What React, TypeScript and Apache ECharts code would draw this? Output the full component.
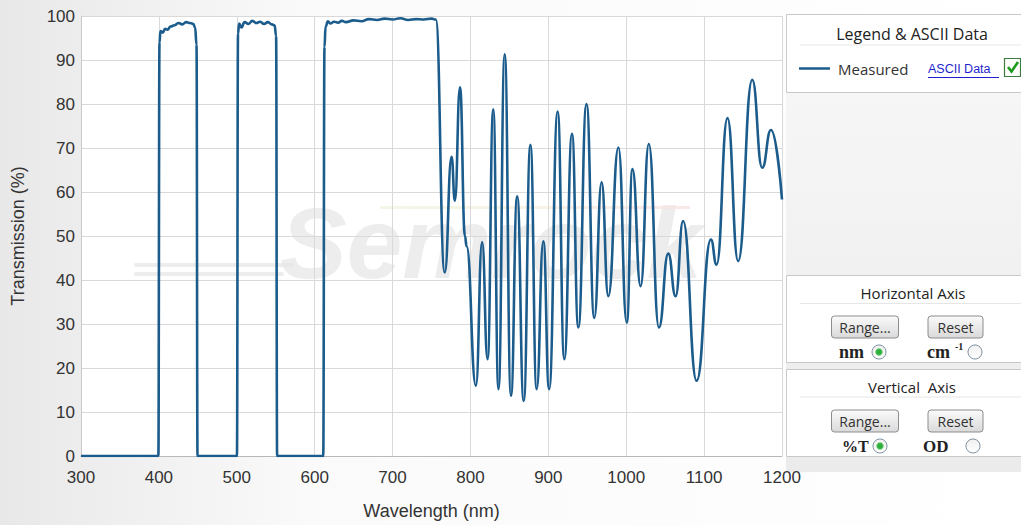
import React, { useEffect, useRef } from "react";
import * as echarts from "echarts";

// ---- Data (wavelength nm, transmission %) ----
const blockNm = [300, 399.3];
const blockT = [0, 0];

const band1Nm = [400.8, 402, 405, 408, 411, 415, 420, 425, 430, 435, 440, 444, 446.5, 448.3, 449.6];
const band1T = [94, 96.6, 96.2, 97.1, 96.9, 97.6, 97.9, 98.4, 98.1, 98.6, 98.4, 98.2, 97.4, 93.5, 0];

const band2Nm = [500.2, 501.6, 503, 506, 510, 515, 520, 525, 530, 535, 540, 545, 548.5, 550.5, 551.8];
const band2T = [0, 96, 98.3, 97.4, 98.6, 98.2, 98.9, 98.4, 98.7, 98.2, 98.6, 98.1, 97.9, 95.5, 0];

const band3Nm = [611, 612.6, 614, 617, 620, 625, 630, 635, 640, 650, 660, 670, 680, 690, 700, 710, 720, 730, 740, 750, 755.5];
const band3T = [0, 93, 97.6, 98.8, 98.3, 98.7, 98.5, 98.9, 98.6, 99, 98.8, 99.3, 99.1, 99.4, 99.2, 99.5, 99.1, 99.3, 99.2, 99.4, 99.2];

const rippleNm = [
  767, 775.8, 780, 786.6, 793, 795, 807, 815, 822, 829.3, 836, 844, 852, 860, 868.4, 877, 885, 893.6,
  901, 912, 920.5, 930.4, 938.5, 949, 959, 968.4, 977, 990, 1000.7, 1008, 1018.5, 1029, 1042, 1054,
  1063.4, 1073, 1090.4, 1108.7, 1116, 1130, 1143.7, 1161.8, 1174.6, 1185.8, 1200,
];
const rippleT = [
  41.7, 68, 58, 83.8, 50, 47.7, 16, 48.6, 22, 78.8, 15.2, 91.3, 13.7, 59, 12.5, 70.7, 15.2, 48.8,
  15.2, 78.3, 22, 73.2, 29.2, 80, 31.4, 62.2, 36.3, 70.1, 30.3, 65.2, 38.6, 70.9, 29.2, 46,
  36.3, 53.4, 17.1, 49.2, 43.5, 76.8, 44.3, 85.5, 65.5, 74.1, 58.3,
];

const xTicks = [300, 1200, 100];
const yTicks = [0, 100, 10];

const LINE = "#1b5c8c";
const FONT = "'Liberation Sans', Arial, sans-serif";
const UI = "'Open Sans', 'Noto Sans', sans-serif";
const SERIF = "'Liberation Serif', serif";

function pairs(nm: number[], t: number[]) {
  return nm.map((v, i) => [v, t[i]]);
}

function button(x: number, y: number, w: number, h: number, text: string) {
  return {
    type: "group",
    children: [
      {
        type: "rect",
        shape: { x, y, width: w, height: h, r: 3 },
        style: {
          fill: new echarts.graphic.LinearGradient(0, 0, 0, 1, [
            { offset: 0, color: "#fbfbfb" },
            { offset: 1, color: "#d9d9d9" },
          ]),
          stroke: "#8c8c8c",
          lineWidth: 1,
        },
      },
      {
        type: "text",
        style: {
          x: x + w / 2,
          y: y + h / 2,
          text,
          align: "center",
          verticalAlign: "middle",
          font: `14px ${UI}`,
          fill: "#333",
        },
      },
    ],
  };
}

function radio(cx: number, cy: number, on: boolean) {
  const kids: any[] = [
    {
      type: "circle",
      shape: { cx, cy, r: 7 },
      style: {
        fill: new echarts.graphic.LinearGradient(0, 0, 0, 1, [
          { offset: 0, color: "#f0f0f0" },
          { offset: 1, color: "#ffffff" },
        ]),
        stroke: "#7d8f9f",
        lineWidth: 1,
      },
    },
  ];
  if (on) {
    kids.push({
      type: "circle",
      shape: { cx, cy, r: 3.5 },
      style: { fill: "#2fae3a", stroke: "#9be0a0", lineWidth: 1 },
    });
  }
  return { type: "group", children: kids };
}

function label(x: number, y: number, text: string, font: string, align = "left", fill = "#222") {
  return {
    type: "text",
    style: { x, y, text, align, verticalAlign: "middle", font, fill },
  };
}

function panel(y: number, h: number) {
  return {
    type: "rect",
    shape: { x: 786.5, y, width: 240, height: h },
    style: { fill: "#ffffff", stroke: "#c9c9c9", lineWidth: 1 },
  };
}

export default function App() {
  const ref = useRef<HTMLDivElement>(null);

  useEffect(() => {
    if (!ref.current) return;
    const chart = echarts.init(ref.current, undefined, { renderer: "svg" });

    const data = [
      ...pairs(blockNm, blockT),
      ...pairs(band1Nm, band1T),
      ...pairs(band2Nm, band2T),
      ...pairs(band3Nm, band3T),
      ...pairs(rippleNm, rippleT),
    ];

    const graphics: any[] = [
      // page background shading
      {
        type: "rect",
        z: -20,
        shape: { x: 0, y: 0, width: 1021, height: 525 },
        style: {
          fill: new echarts.graphic.LinearGradient(0, 0, 1, 0, [
            { offset: 0, color: "#e8e8e8" },
            { offset: 0.3, color: "#fafafa" },
            { offset: 1, color: "#ffffff" },
          ]),
        },
      },
      {
        type: "rect",
        z: -19,
        shape: { x: 81, y: 16, width: 701, height: 441 },
        style: { fill: "#ffffff" },
      },
      {
        type: "rect",
        z: -19,
        shape: { x: 786, y: 92, width: 235, height: 380 },
        style: {
          fill: new echarts.graphic.LinearGradient(0, 0, 0, 1, [
            { offset: 0, color: "#f6f6f6" },
            { offset: 1, color: "#ebebeb" },
          ]),
        },
      },
      // watermark
      {
        type: "group",
        z: -5,
        silent: true,
        children: [
          {
            type: "text",
            style: {
              x: 280,
              y: 243,
              text: "Semrock",
              font: `italic bold 100px ${FONT}`,
              fill: "#e6e6e6",
              opacity: 0.7,
              verticalAlign: "middle",
            },
          },
          {
            type: "rect",
            shape: { x: 134, y: 263, width: 160, height: 4, r: 2 },
            style: { fill: "#e6e6e6", opacity: 0.7 },
          },
          {
            type: "rect",
            shape: { x: 134, y: 272, width: 150, height: 4, r: 2 },
            style: { fill: "#e6e6e6", opacity: 0.7 },
          },
          {
            type: "rect",
            shape: { x: 380, y: 206, width: 310, height: 3 },
            style: {
              fill: new echarts.graphic.LinearGradient(0, 0, 1, 0, [
                { offset: 0, color: "#eef6e0" },
                { offset: 0.5, color: "#f6efe0" },
                { offset: 1, color: "#f8e2e2" },
              ]),
              opacity: 0.8,
            },
          },
        ],
      },
      // Legend & ASCII Data panel
      panel(14.5, 78),
      label(912, 33.5, "Legend & ASCII Data", `16px ${UI}`, "center"),
      {
        type: "line",
        shape: { x1: 800, y1: 45, x2: 1021, y2: 45 },
        style: { stroke: "#e6e6e6", lineWidth: 1 },
      },
      {
        type: "line",
        shape: { x1: 799, y1: 68.5, x2: 830, y2: 68.5 },
        style: { stroke: LINE, lineWidth: 2.5 },
      },
      label(838, 69, "Measured", `15px ${UI}`, "left", "#333"),
      label(928, 69, "ASCII Data", `12.5px ${FONT}`, "left", "#1f1fd0"),
      {
        type: "line",
        shape: { x1: 928, y1: 77.5, x2: 999, y2: 77.5 },
        style: { stroke: "#1f1fd0", lineWidth: 1 },
      },
      {
        type: "rect",
        shape: { x: 1004.5, y: 58.5, width: 16, height: 18 },
        style: { fill: "#ffffff", stroke: "#3d7a3d", lineWidth: 1.2 },
      },
      {
        type: "polyline",
        shape: { points: [[1008, 67], [1011.5, 71.5], [1018, 62]] },
        style: { stroke: "#1d9a1d", lineWidth: 2.6, fill: "none" },
      },
      // Horizontal axis panel
      panel(275.5, 87),
      label(913, 293, "Horizontal Axis", `15px ${UI}`, "center"),
      {
        type: "line",
        shape: { x1: 800, y1: 303.5, x2: 1021, y2: 303.5 },
        style: { stroke: "#e6e6e6", lineWidth: 1 },
      },
      button(831.5, 316, 67, 22, "Range..."),
      button(928, 316, 55, 22, "Reset"),
      label(839, 352, "nm", `bold 18px ${SERIF}`, "left", "#222"),
      radio(879, 352, true),
      label(927, 352, "cm", `bold 18px ${SERIF}`, "left", "#222"),
      label(955, 346, "-1", `bold 10px ${SERIF}`, "left", "#222"),
      radio(975, 352, false),
      // Vertical axis panel
      panel(369.5, 87),
      label(912, 386.5, "Vertical  Axis", `15px ${UI}`, "center"),
      {
        type: "line",
        shape: { x1: 800, y1: 397, x2: 1021, y2: 397 },
        style: { stroke: "#e6e6e6", lineWidth: 1 },
      },
      button(831.5, 410, 67, 22, "Range..."),
      button(928, 410, 55, 22, "Reset"),
      label(842, 446, "%T", `bold 16px ${SERIF}`, "left", "#222"),
      radio(880, 446, true),
      label(923, 446, "OD", `bold 17px ${SERIF}`, "left", "#222"),
      radio(973, 446, false),
    ];

    chart.setOption({
      animation: false,
      backgroundColor: "#ffffff",
      textStyle: { fontFamily: FONT },
      grid: { left: 81, right: 239, top: 16, bottom: 68, containLabel: false },
      xAxis: {
        type: "value",
        min: xTicks[0],
        max: xTicks[1],
        interval: xTicks[2],
        name: "Wavelength (nm)",
        nameLocation: "middle",
        nameGap: 46,
        nameTextStyle: { fontSize: 18, color: "#333", fontFamily: FONT },
        axisLine: { lineStyle: { color: "#b8b8b8", width: 1 } },
        axisTick: { show: false },
        axisLabel: {
          fontSize: 17,
          color: "#333",
          margin: 13,
          fontFamily: FONT,
          formatter: (v: number) => String(v),
        },
        splitLine: { show: true, lineStyle: { color: "#d9d9d9", width: 1 } },
      },
      yAxis: {
        type: "value",
        min: yTicks[0],
        max: yTicks[1],
        interval: yTicks[2],
        name: "Transmission (%)",
        nameLocation: "middle",
        nameGap: 54,
        nameTextStyle: { fontSize: 18, color: "#333", fontFamily: FONT },
        axisLine: { show: true, lineStyle: { color: "#c8c8c8", width: 1 } },
        axisTick: { show: false },
        axisLabel: {
          fontSize: 17,
          color: "#333",
          margin: 6,
          fontFamily: FONT,
          formatter: (v: number) => String(v),
        },
        splitLine: { show: true, lineStyle: { color: "#d9d9d9", width: 1 } },
      },
      graphic: graphics,
      series: [
        {
          type: "line",
          name: "Measured",
          data,
          showSymbol: false,
          smooth: 0.5,
          smoothMonotone: "x",
          lineStyle: { color: LINE, width: 2.6 },
          z: 3,
        },
      ],
    });

    return () => chart.dispose();
  }, []);

  return (
    <div style={{ position: "fixed", left: 0, top: 0, width: 1021, height: 525 }}>
      <div ref={ref} style={{ width: 1021, height: 525 }} />
    </div>
  );
}
